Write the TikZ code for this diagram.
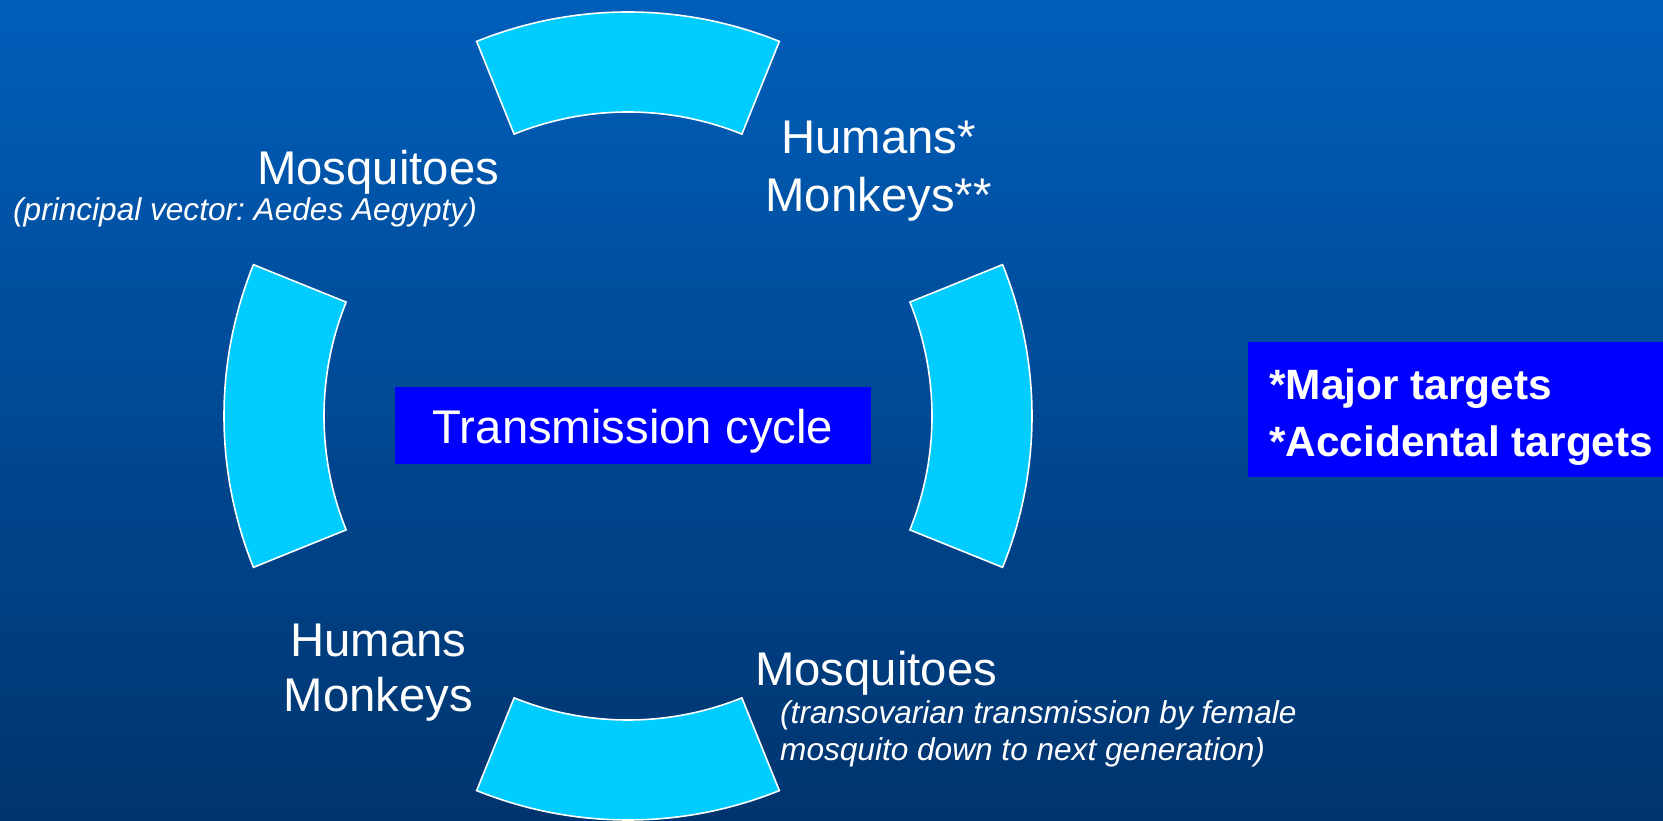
\documentclass[tikz,border=0pt]{standalone}
\usepackage{fontspec}
\setmainfont{Liberation Sans}
\frenchspacing
\definecolor{bgtop}{RGB}{0,94,186}
\definecolor{bgbot}{RGB}{0,52,110}
\definecolor{segcyan}{RGB}{0,204,255}
\definecolor{boxblue}{RGB}{0,0,255}
\tikzset{
  seg/.style={fill=segcyan, draw=white, line width=1.6pt, line join=miter},
  big/.style={text=white, inner sep=0pt, font=\fontsize{47.3}{56}\selectfont},
  small/.style={text=white, inner sep=0pt, font=\fontsize{31.6}{37}\selectfont\itshape},
  leg/.style={text=white, inner sep=0pt, font=\fontsize{42.4}{57}\selectfont\bfseries},
}
\begin{document}
\begin{tikzpicture}[x=1pt,y=1pt]
\useasboundingbox (0,0) rectangle (1663,820);
\shade[top color=bgtop, bottom color=bgbot] (0,0) rectangle (1663,820);
\coordinate (c) at (628,404);
% ring segments
\draw[seg] (c) ++(68:404pt) arc[start angle=68,end angle=112,radius=404pt] -- ([shift={(112:304pt)}]c) arc[start angle=112,end angle=68,radius=304pt] -- cycle;
\draw[seg] (c) ++(-22:404pt) arc[start angle=-22,end angle=22,radius=404pt] -- ([shift={(22:304pt)}]c) arc[start angle=22,end angle=-22,radius=304pt] -- cycle;
\draw[seg] (c) ++(248:404pt) arc[start angle=248,end angle=292,radius=404pt] -- ([shift={(292:304pt)}]c) arc[start angle=292,end angle=248,radius=304pt] -- cycle;
\draw[seg] (c) ++(158:404pt) arc[start angle=158,end angle=202,radius=404pt] -- ([shift={(202:304pt)}]c) arc[start angle=202,end angle=158,radius=304pt] -- cycle;
% centre box
\node[big, fill=boxblue, minimum width=476pt, text height=56.6pt, text depth=20.4pt, anchor=north] (tc) at (633,433.3) {Transmission cycle};
% legend box
\node[fill=boxblue, inner sep=0pt, minimum width=420pt, minimum height=135pt, anchor=north west] (legbox) at (1248,478.3) {};
\node[leg, anchor=base west] (leg1) at (1269,420) {*Major targets};
\node[leg, anchor=base west] (leg2) at (1269,363.3) {*Accidental targets};
% top-left label
\node[big, anchor=base west] (mos1) at (257,635) {Mosquitoes};
\node[small, anchor=base west] (mos1s) at (13,599.3) {(principal vector: Aedes Aegypty)};
% top-right label
\node[big, anchor=base] (hum1) at (878.5,666.7) {Humans*};
\node[big, anchor=base] (mon1) at (878.5,608.3) {Monkeys**};
% bottom-left label
\node[big, anchor=base] (hum2) at (378.3,163.3) {Humans};
\node[big, anchor=base] (mon2) at (378.3,108.3) {Monkeys};
% bottom-right label
\node[big, anchor=base west] (mos2) at (755,135) {Mosquitoes};
\node[small, anchor=base west] (mos2a) at (780,97) {(transovarian transmission by female};
\node[small, anchor=base west] (mos2b) at (780,60) {mosquito down to next generation)};
\end{tikzpicture}
\end{document}
